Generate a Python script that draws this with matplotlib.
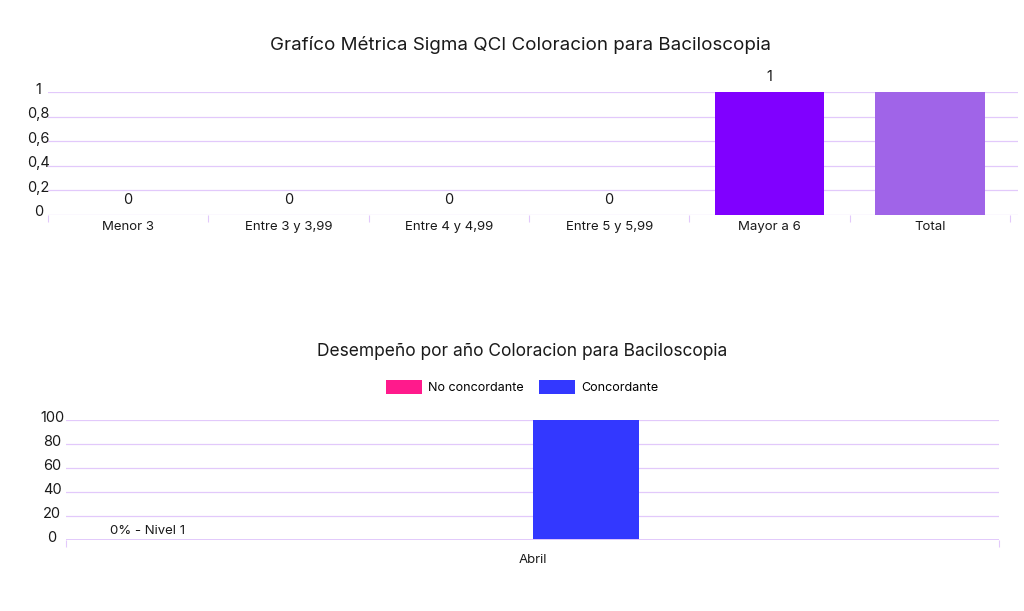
import numpy as np
import matplotlib
matplotlib.use("Agg")
import matplotlib.pyplot as plt
import matplotlib.transforms as mtransforms

plt.rcParams['font.family'] = ['Inter', 'DejaVu Sans']

# Top chart data
sigma_cats = ["Menor 3", "Entre 3 y 3,99", "Entre 4 y 4,99", "Entre 5 y 5,99", "Mayor a 6", "Total"]
sigma_vals = [0, 0, 0, 0, 1, 1]
sigma_colors = ["#8000ff", "#8000ff", "#8000ff", "#8000ff", "#8000ff", "#a064e8"]
sigma_yticks = [0, 0.2, 0.4, 0.6, 0.8, 1]
sigma_ylabels = ["0", "0,2", "0,4", "0,6", "0,8", "1"]

# Bottom chart data
months = ["Abril"]
no_conc = [0]
conc = [100]
perf_yticks = [0, 20, 40, 60, 80, 100]

grid_c = "#e2c9fb"
txt_c = "#1a1a1a"
W, H = 1024, 611
fig = plt.figure(figsize=(W / 100, H / 100), dpi=100)


def frac(x0, y0, x1, y1):
    return [x0 / W, 1 - y1 / H, (x1 - x0) / W, (y1 - y0) / H]


def style_axes(ax, yticks, ylabels, lab_pad):
    for s in ax.spines.values():
        s.set_visible(False)
    ax.set_yticks(yticks)
    ax.set_yticklabels(ylabels)
    ax.tick_params(axis="y", length=0, pad=lab_pad, labelsize=10.5, colors=txt_c)
    # labels sit a little above their gridline, centred
    off = mtransforms.ScaledTranslation(0, 4 / 100, fig.dpi_scale_trans)
    for lab in ax.get_yticklabels():
        lab.set_horizontalalignment("center")
        lab.set_transform(lab.get_transform() + off)
    ax.yaxis.grid(True, color=grid_c, linewidth=0.9)
    ax.set_axisbelow(True)
    ax.tick_params(axis="x", which="major", length=0, labelsize=9.5, colors=txt_c)
    ax.tick_params(axis="x", which="minor", length=5, width=0.8, color=grid_c)


# ---- Top chart ----
ax1 = fig.add_axes(frac(48, 92, 1018, 215))
x1 = np.arange(len(sigma_cats))
ax1.bar(x1, sigma_vals, width=0.685, color=sigma_colors)
ax1.set_xlim(-0.5, len(sigma_cats) - 0.45)
ax1.set_ylim(0, 1)
style_axes(ax1, sigma_yticks, sigma_ylabels, 7)
ax1.set_xticks(x1)
ax1.set_xticklabels(sigma_cats)
ax1.set_xticks(np.arange(-0.5, len(sigma_cats)), minor=True)
ax1.tick_params(axis="x", which="major", pad=4)
for i, v in enumerate(sigma_vals[:5]):
    ax1.annotate(str(v), (x1[i], v), xytext=(0, 6), textcoords="offset points",
                 ha="center", va="bottom", fontsize=10.5, color=txt_c)
fig.text(520 / W, 1 - 45 / H, "Grafíco Métrica Sigma QCI Coloracion para Baciloscopia",
         ha="center", va="center", fontsize=13.5, color=txt_c)

# ---- Bottom chart ----
ax2 = fig.add_axes(frac(66, 420, 999, 540))
x2 = np.arange(len(months))
bw = 0.114
ax2.bar(x2 - bw / 2, no_conc, width=bw, color="#ff1a8c", label="No concordante")
ax2.bar(x2 + bw / 2, conc, width=bw, color="#3338ff", label="Concordante")
ax2.set_xlim(-0.5, 0.5)
ax2.set_ylim(0, 100)
style_axes(ax2, perf_yticks, [str(t) for t in perf_yticks], 10)
ax2.set_xticks(x2)
ax2.set_xticklabels(months)
ax2.set_xticks([-0.5, 0.5], minor=True)
ax2.tick_params(axis="x", which="major", pad=10)
ax2.axhline(0, color=grid_c, linewidth=1.4)
ax2.text(0.087, 0.075, "0% - Nivel 1", transform=ax2.transAxes, ha="center", va="center",
         fontsize=9.5, color=txt_c)
ax2.legend(loc="center", bbox_to_anchor=(0.489, (540 - 387) / 120), ncol=2,
           frameon=False, fontsize=9, handlelength=2.9, handleheight=1.3,
           columnspacing=1.2, handletextpad=0.5)
fig.text(522 / W, 1 - 352 / H, "Desempeño por año Coloracion para Baciloscopia",
         ha="center", va="center", fontsize=12.5, color=txt_c)

fig.savefig("out.png", dpi=100)
